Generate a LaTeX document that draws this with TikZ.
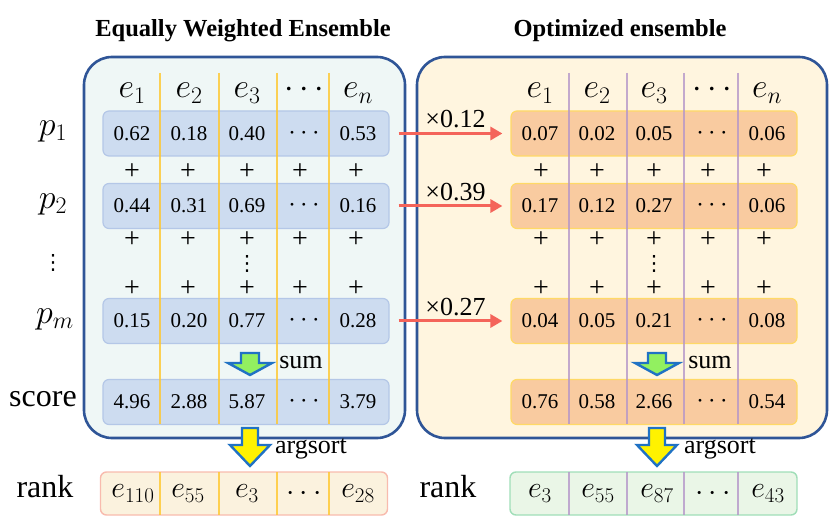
\RequirePackage{fix-cm}
\documentclass[tikz,border=0pt]{standalone}
\usepackage{fontspec}
\setmainfont{Liberation Serif}
\newfontfamily\symfont{DejaVu Sans}
\usetikzlibrary{arrows.meta,positioning}

\definecolor{boxblue}{HTML}{2F5597}
\definecolor{eqfill}{HTML}{EFF7F6}
\definecolor{optfill}{HTML}{FFF5DF}
\definecolor{rowblue}{HTML}{CDDCF0}
\definecolor{rowblueline}{HTML}{B4C7E7}
\definecolor{roworange}{HTML}{F9CBA0}
\definecolor{roworangeline}{HTML}{FFD966}
\definecolor{colyellow}{HTML}{FFC72C}
\definecolor{colpurple}{HTML}{B596C9}
\definecolor{arrowred}{HTML}{F4645A}
\definecolor{rankcream}{HTML}{FBF2DE}
\definecolor{rankpink}{HTML}{F8BBAE}
\definecolor{rankmint}{HTML}{EAF6E7}
\definecolor{rankgreen}{HTML}{A0DEB8}
\definecolor{sumgreen}{HTML}{92F060}
\definecolor{arrowblue}{HTML}{2072C4}

\newcommand\rowdots{{\fontsize{27}{28}\selectfont$\cdots$}}

\begin{document}
\begin{tikzpicture}[x=1pt,y=-1pt,
	ensbox/.style={draw=boxblue,line width=2.6pt,rounded corners=28pt,inner sep=0pt,minimum height=381pt},
	rowbox/.style={rounded corners=6pt,line width=1.2pt,inner sep=0pt,minimum width=286pt,minimum height=45pt},
	rankbox/.style={rounded corners=6pt,line width=1.4pt,inner sep=0pt,minimum width=287pt,minimum height=43pt},
	colline/.style={line width=1.4pt,opacity=0.8},
	title/.style={font=\fontsize{24.5}{28}\selectfont\bfseries,anchor=base},
	head/.style={font=\fontsize{34}{38}\selectfont,inner sep=0pt},
	entry/.style={font=\fontsize{30}{34}\selectfont,inner sep=0pt},
	val/.style={font=\fontsize{21}{24}\selectfont,inner sep=0pt},
	plus/.style={font=\fontsize{28}{30}\selectfont,inner sep=0pt},
	vdot/.style={font=\fontsize{21}{22}\selectfont\symfont,inner sep=0pt},
	side/.style={font=\fontsize{32}{36}\selectfont,inner sep=0pt,anchor=mid},
	oplabel/.style={font=\fontsize{26}{28}\selectfont,inner sep=0pt,anchor=mid},
	wlabel/.style={font=\fontsize{26}{28}\selectfont,inner sep=0pt},
	weight/.style={draw=arrowred,line width=3pt,-{Triangle[length=12pt,width=13pt]}},
	sumarrow/.style={draw=arrowblue,line width=2.4pt,fill=sumgreen},
	sortarrow/.style={draw=arrowblue,line width=2.4pt,fill=yellow}]

\useasboundingbox (0,0) rectangle (830,518);

% titles
\node[title] (tEq) at (243,37) {Equally Weighted Ensemble};
\node[title] (tOpt) at (620,37) {Optimized ensemble};

% ensemble frames
\node[ensbox,fill=eqfill,minimum width=321pt] (eqbox) at (244.5,247.5) {};
\node[ensbox,fill=optfill,minimum width=410pt] (optbox) at (622,247.5) {};

% rows of each ensemble
\foreach \r/\y in {1/133.5,2/206,m/321,s/402}{
	\node[rowbox,fill=rowblue,draw=rowblueline] (rowL\r) at (246,\y) {};
	\node[rowbox,fill=roworange,draw=roworangeline] (rowR\r) at (654,\y) {};
}
\node[rankbox,fill=rankcream,draw=rankpink] (rankL) at (244,493.5) {};
\node[rankbox,fill=rankmint,draw=rankgreen] (rankR) at (653.5,493.5) {};

% column separators
\foreach \x in {160,219,277,329}{
	\draw[colline,draw=colyellow] (\x,73) -- (\x,424);
	\draw[colline,draw=colyellow] (\x,472) -- (\x,515);
}
\foreach \x in {569,627,684,738}{
	\draw[colline,draw=colpurple] (\x,73) -- (\x,424);
	\draw[colline,draw=colpurple] (\x,472) -- (\x,515);
}

% column heads
\foreach \x/\e [count=\i] in {132/e_1,189/e_2,247/e_3,304/\cdots,358/e_n}
	\node[head,anchor=base] (hL\i) at (\x,98) {$\e$};
\foreach \x/\e [count=\i] in {540/e_1,597/e_2,654/e_3,712/\cdots,767/e_n}
	\node[head,anchor=base] (hR\i) at (\x,98) {$\e$};

% values
\foreach \r/\vals in {1/{0.62,0.18,0.40,\rowdots,0.53},2/{0.44,0.31,0.69,\rowdots,0.16},m/{0.15,0.20,0.77,\rowdots,0.28},s/{4.96,2.88,5.87,\rowdots,3.79}}
	\foreach \v [count=\i] in \vals
		\node[val] (vL\r\i) at (hL\i |- rowL\r) {\v};
\foreach \r/\vals in {1/{0.07,0.02,0.05,\rowdots,0.06},2/{0.17,0.12,0.27,\rowdots,0.06},m/{0.04,0.05,0.21,\rowdots,0.08},s/{0.76,0.58,2.66,\rowdots,0.54}}
	\foreach \v [count=\i] in \vals
		\node[val] (vR\r\i) at (hR\i |- rowR\r) {\v};

% plus signs
\foreach \y in {172,240,289}{
	\foreach \x [count=\i] in {132,188,247,300,356}
		\node[plus] (plusL\y x\i) at (\x,\y) {+};
	\foreach \x [count=\i] in {541,597,654,708,764}
		\node[plus] (plusR\y x\i) at (\x,\y) {+};
}
\node[vdot] (dotsL) at (247,264) {⋮};
\node[vdot] (dotsR) at (654,264) {⋮};
\node[vdot] (dotsP) at (53,263) {⋮};

% row labels
\node[head,anchor=mid] (lp1) at (53,133.5) {$p_1$};
\node[head,anchor=mid] (lp2) at (53,206) {$p_2$};
\node[head,anchor=mid] (lpm) at (55,321) {$p_m$};
\node[side] (lscore) at (43,404.5) {score};
\node[side] (lrankL) at (45,495.5) {rank};
\node[side] (lrankR) at (448,495.5) {rank};

% rank entries
\foreach \x/\e [count=\i] in {133/e_{110},188/e_{55},247/e_3,304/\cdots,358/e_{28}}
	\node[entry] (kL\i) at (\x,493.5) {$\e$};
\foreach \x/\e [count=\i] in {540/e_3,598/e_{55},657/e_{87},713/\cdots,768/e_{43}}
	\node[entry] (kR\i) at (\x,493.5) {$\e$};

% weights
\foreach \r/\w in {1/0.12,2/0.39,m/0.27}
	\draw[weight] ([xshift=9pt]rowL\r.east) -- ([xshift=-8pt]rowR\r.west)
		node[wlabel,midway,above=4pt,xshift=5pt] (w\r) {×\w};

% sum and argsort arrows
\foreach \cx/\s in {250/L,657/R}{
	\draw[sumarrow] (\cx-9,353) -- (\cx+9,353) -- (\cx+9,363) -- (\cx+22,363)
		-- (\cx,375) -- (\cx-22,363) -- (\cx-9,363) -- cycle;
	\draw[sortarrow] (\cx-8,428) -- (\cx+8,428) -- (\cx+8,445) -- (\cx+20,445)
		-- (\cx,466) -- (\cx-20,445) -- (\cx-8,445) -- cycle;
}
\node[oplabel] (sumL) at (301,366) {sum};
\node[oplabel] (sumR) at (710,366) {sum};
\node[oplabel] (sortL) at (311,451) {argsort};
\node[oplabel] (sortR) at (720,451) {argsort};
\end{tikzpicture}
\end{document}
